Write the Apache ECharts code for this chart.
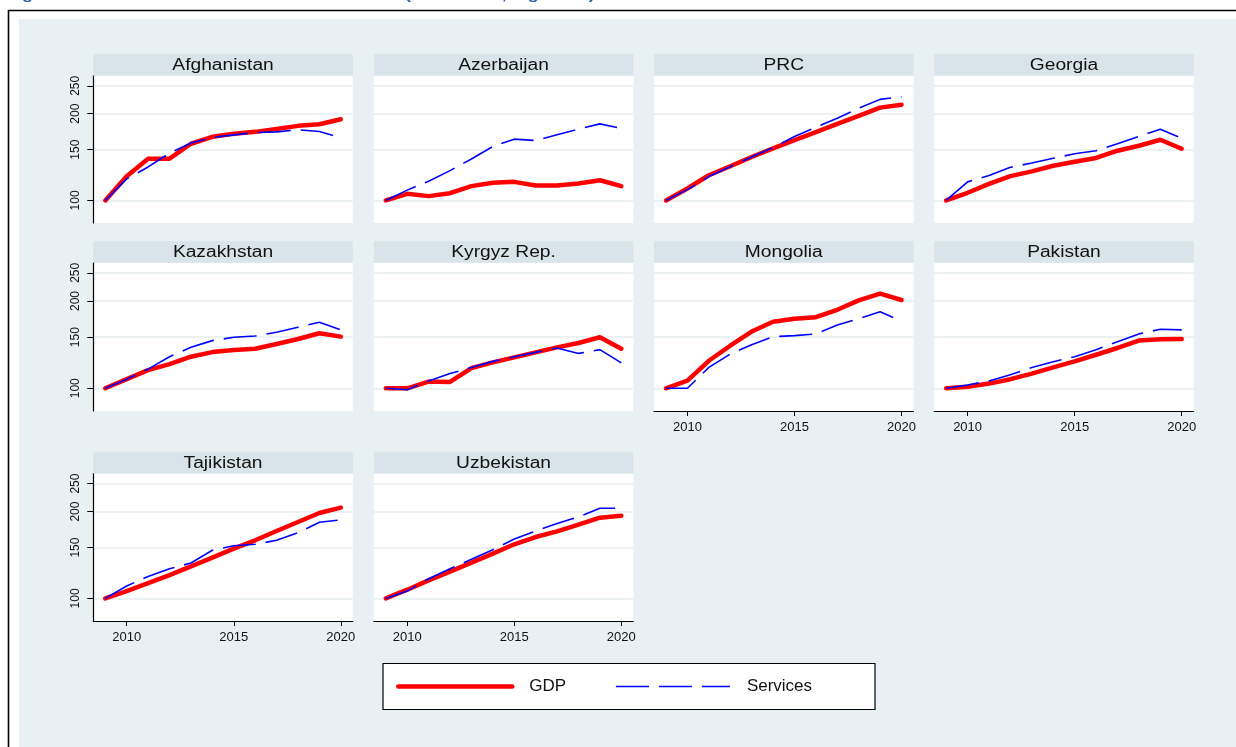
<!DOCTYPE html>
<html>
<head>
<meta charset="utf-8">
<script src="https://cdn.jsdelivr.net/npm/echarts@6/dist/echarts.min.js"></script>
<style>
  html, body { margin: 0; padding: 0; background: #ffffff; }
  #chart { width: 1236px; height: 747px; }
</style>
</head>
<body>
<div id="chart"></div>
<script>
// Index of GDP and services value added, 2009 = 100 (log scale)
const years = [2009, 2010, 2011, 2012, 2013, 2014, 2015, 2016, 2017, 2018, 2019, 2020];
const countries = ['Afghanistan', 'Azerbaijan', 'PRC', 'Georgia', 'Kazakhstan', 'Kyrgyz Rep.',
                   'Mongolia', 'Pakistan', 'Tajikistan', 'Uzbekistan'];

const gdpAfghanistan = [100, 121.3, 139.6, 139.6, 157.3, 166.3, 170.3, 173.0, 177.0, 181.5, 183.9, 191.4];
const svcAfghanistan = [100, 118.8, 130.7, 146.0, 158.2, 165.4, 168.9, 172.0, 173.0, 175.8, 173.5, 165.0];
const gdpAzerbaijan  = [100, 105.4, 103.5, 106.0, 112.1, 115.1, 116.0, 112.7, 112.7, 114.5, 117.5, 112.1];
const svcAzerbaijan  = [100, 108.6, 116.5, 126.9, 139.3, 154.0, 163.2, 161.5, 169.0, 176.8, 184.4, 178.0];
const gdpPRC         = [100, 110.0, 122.3, 131.4, 141.5, 151.6, 162.0, 172.6, 184.4, 196.5, 210.0, 215.0];
const svcPRC         = [100, 109.0, 121.0, 131.0, 141.5, 152.5, 166.7, 179.6, 192.9, 208.8, 224.3, 229.0];
const gdpGeorgia     = [100, 106.3, 114.2, 121.4, 126.2, 132.0, 136.3, 140.4, 148.8, 154.8, 162.4, 151.2];
const svcGeorgia     = [100, 116.0, 122.0, 130.3, 134.9, 140.0, 145.3, 148.8, 157.3, 166.7, 176.8, 164.5];
const gdpKazakhstan  = [100, 107.5, 115.5, 121.1, 128.5, 133.3, 135.5, 136.9, 142.1, 147.9, 154.8, 150.7];
const svcKazakhstan  = [100, 107.5, 116.4, 128.5, 138.4, 146.0, 149.9, 151.5, 156.0, 162.4, 169.0, 159.0];
const gdpKyrgyz      = [100, 100.0, 105.5, 105.2, 117.3, 122.8, 127.8, 133.0, 138.4, 143.3, 149.9, 136.9];
const svcKyrgyz      = [100, 98.9, 106.0, 112.4, 118.0, 123.8, 128.5, 133.0, 137.7, 131.9, 135.9, 122.4];
const gdpMongolia    = [100, 106.3, 124.4, 140.2, 156.9, 169.5, 173.6, 175.9, 186.5, 200.9, 211.9, 201.5];
const svcMongolia    = [100, 100.0, 118.0, 131.2, 141.4, 150.7, 151.9, 154.0, 165.4, 173.6, 183.6, 170.4];
const gdpPakistan    = [100, 101.3, 103.8, 107.5, 112.4, 118.0, 123.8, 130.5, 137.7, 146.0, 147.5, 147.9];
const svcPakistan    = [100, 102.7, 106.0, 111.3, 118.0, 123.4, 128.5, 135.9, 144.8, 154.0, 159.8, 159.0];
const gdpTajikistan  = [100, 106.0, 113.0, 120.5, 129.1, 138.4, 148.7, 159.0, 171.3, 184.0, 197.8, 206.4];
const svcTajikistan  = [100, 110.4, 119.2, 126.7, 132.6, 146.8, 152.3, 154.0, 159.0, 169.0, 183.6, 187.0];
const gdpUzbekistan  = [100, 107.2, 115.5, 123.8, 133.0, 142.9, 154.0, 163.2, 170.8, 180.2, 190.5, 193.6];
const svcUzbekistan  = [100, 106.0, 117.0, 126.7, 136.6, 147.5, 160.7, 171.3, 181.7, 191.6, 205.3, 205.3];

const gdpSeries = [gdpAfghanistan, gdpAzerbaijan, gdpPRC, gdpGeorgia, gdpKazakhstan, gdpKyrgyz,
                   gdpMongolia, gdpPakistan, gdpTajikistan, gdpUzbekistan];
const svcSeries = [svcAfghanistan, svcAzerbaijan, svcPRC, svcGeorgia, svcKazakhstan, svcKyrgyz,
                   svcMongolia, svcPakistan, svcTajikistan, svcUzbekistan];

const yTicks = [100, 150, 200, 250];
const xTicks = [2010, 2015, 2020];

// ---- layout ----
const FONT = 'Liberation Sans, Arial, Helvetica, sans-serif';
const colX = [93.3, 373.8, 654.0, 934.2];
const panelW = 259.5;
const rows = [
  { head: 54.0, top: 75.7, bottom: 223.0 },
  { head: 241.2, top: 262.7, bottom: 411.0 },
  { head: 452.3, top: 473.5, bottom: 621.0 }
];
const xAxisPanels = [6, 7, 8, 9];   // panels that carry the year axis

const grids = [], xAxes = [], yAxes = [], series = [], graphics = [];

// page frame and shaded plot region
graphics.push({ type: 'rect', z: -100, shape: { x: 8.5, y: 10.5, width: 1240, height: 750 },
                style: { fill: '#ffffff', stroke: '#000000', lineWidth: 1.6 } });
graphics.push({ type: 'rect', z: -99, shape: { x: 19, y: 19, width: 1230, height: 740 },
                style: { fill: '#e8f0f3' } });
// figure caption above the frame (runs off the top edge)
graphics.push({ type: 'text', z: 50, x: 6, y: 2, scaleX: 1.2,
                style: { text: 'Figure 2: GDP and Services Growth in CAREC (2009 = 100, log scale)',
                         font: 'bold 15px ' + FONT, fill: '#2e5fa8',
                         textAlign: 'left', textVerticalAlign: 'bottom' } });

countries.forEach((name, i) => {
  const col = i % 4, row = Math.floor(i / 4);
  const r = rows[row];
  const left = colX[col];
  const hasY = col === 0;
  const hasX = xAxisPanels.indexOf(i) >= 0;

  grids.push({
    left: left, top: r.top, width: panelW, height: r.bottom - r.top,
    show: true, backgroundColor: '#ffffff', borderWidth: 0, containLabel: false
  });

  xAxes.push({
    gridIndex: i, type: 'value', min: 2008.44, max: 2020.56,
    axisLine: { show: hasX, onZero: false, lineStyle: { color: '#000000', width: 1.2 } },
    axisTick: { show: hasX, length: 5, customValues: xTicks, lineStyle: { color: '#000000', width: 1 } },
    axisLabel: { show: hasX, customValues: xTicks, formatter: v => String(v),
                 fontFamily: FONT, fontSize: 13, color: '#111111', margin: 10 },
    splitLine: { show: false }
  });

  yAxes.push({
    gridIndex: i, type: 'log', logBase: 10, min: 83.5, max: 271,
    axisLine: { show: hasY, lineStyle: { color: '#000000', width: 1.2 } },
    axisTick: { show: hasY, length: 6, customValues: yTicks, lineStyle: { color: '#000000', width: 1 } },
    axisLabel: { show: hasY, customValues: yTicks, rotate: 90, formatter: v => String(v),
                 fontFamily: FONT, fontSize: 12, color: '#111111', margin: 12 },
    splitLine: { show: true, lineStyle: { color: '#e6eef0', width: 1.5 } }
  });

  series.push({
    name: 'GDP', type: 'line', xAxisIndex: i, yAxisIndex: i,
    data: years.map((y, k) => [y, gdpSeries[i][k]]),
    symbol: 'none', showSymbol: false, silent: true, z: 3,
    lineStyle: { color: '#ff0000', width: 4.5, join: 'round', cap: 'round' },
    itemStyle: { color: '#ff0000' }
  });
  series.push({
    name: 'Services', type: 'line', xAxisIndex: i, yAxisIndex: i,
    data: years.map((y, k) => [y, svcSeries[i][k]]),
    symbol: 'none', showSymbol: false, silent: true, z: 4,
    lineStyle: { color: '#0000ff', width: 1.6, type: [33, 10] },
    itemStyle: { color: '#0000ff' }
  });

  // panel heading strip
  graphics.push({ type: 'rect', z: 10, shape: { x: left, y: r.head, width: panelW, height: r.top - r.head },
                  style: { fill: '#d9e4ea' } });
  graphics.push({ type: 'text', z: 11, x: left + panelW / 2, y: (r.head + r.top) / 2 + 0.5, scaleX: 1.2,
                  style: { text: name, font: '16px ' + FONT, fill: '#111111',
                           textAlign: 'center', textVerticalAlign: 'middle' } });
});

// legend frame
graphics.push({ type: 'rect', z: 5, shape: { x: 383, y: 663.5, width: 492, height: 46 },
                style: { fill: '#ffffff', stroke: '#000000', lineWidth: 1.2 } });

const chart = echarts.init(document.getElementById('chart'), null, { renderer: 'canvas' });
chart.setOption({
  backgroundColor: '#ffffff',
  animation: false,
  grid: grids,
  xAxis: xAxes,
  yAxis: yAxes,
  series: series,
  graphic: { elements: graphics },
  legend: {
    data: ['GDP', 'Services'],
    left: 396, top: 678, z: 20,
    itemWidth: 114, itemHeight: 20, itemGap: 49,
    padding: 0,
    itemStyle: { opacity: 0 },
    lineStyle: { width: 'inherit' },
    textStyle: { fontFamily: FONT, fontSize: 17, color: '#111111', padding: [0, 0, 0, 12] },
    selectedMode: false
  }
});
</script>
</body>
</html>
